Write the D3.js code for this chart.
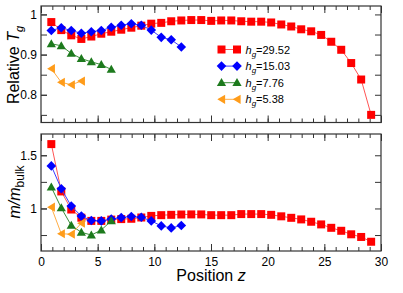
<!DOCTYPE html>
<html><head><meta charset="utf-8">
<script src="https://cdn.jsdelivr.net/npm/d3@7"></script>
<style>body{margin:0;background:#fff}svg{display:block;font-family:"Liberation Sans",Arial,sans-serif}</style>
</head><body><svg id="c" width="403" height="293"></svg>
<script>
// ---- data ----
const zPos = [0.91,1.79,2.67,3.56,4.44,5.32,6.20,7.08,7.97,8.85,9.73,10.61,11.49,12.38,13.26,14.14,15.02,15.90,16.79,17.67,18.55,19.43,20.31,21.20,22.08,22.96,23.84,24.72,25.61,26.49,27.37,28.25,29.13];
const seriesNames = ["29.52","15.03","7.76","5.38"];
const tgRed = [0.981,0.961,0.948,0.939,0.945,0.952,0.957,0.962,0.967,0.972,0.977,0.979,0.983,0.985,0.986,0.986,0.984,0.985,0.985,0.983,0.982,0.982,0.980,0.975,0.970,0.963,0.958,0.949,0.932,0.912,0.879,0.838,0.750];
const tgBlue = [0.960,0.967,0.960,0.953,0.957,0.960,0.968,0.973,0.977,0.973,0.961,0.943,0.937,0.919];
const tgGreen = [0.927,0.922,0.903,0.890,0.882,0.875,0.863];
const tgOrange = [0.865,0.831,0.825,0.834];
const mRed = [1.605,1.160,0.990,0.913,0.883,0.883,0.895,0.900,0.903,0.915,0.930,0.937,0.940,0.943,0.944,0.944,0.937,0.937,0.937,0.947,0.947,0.947,0.940,0.926,0.912,0.897,0.875,0.850,0.818,0.790,0.757,0.732,0.687];
const mBlue = [1.400,1.185,1.022,0.928,0.887,0.883,0.900,0.914,0.925,0.917,0.883,0.836,0.817,0.840];
const mGreen = [1.200,1.005,0.840,0.776,0.750,0.797,0.884];
const mOrange = [1.012,0.762,0.758,0.862];
const xTicks = [0,5,10,15,20,25,30];
const xMinor = d3.range(0,31,1);
const tgTicks = [0.8,0.9,1];
const tgMinor = [0.75,0.8,0.85,0.9,0.95,1];
const mTicks = [1,1.5];
const mMinor = [0.75,1,1.25,1.5];

// ---- layout ----
const svg = d3.select("#c");
const x = d3.scaleLinear([0,30],[41,381]);
const yTop = d3.scaleLinear([0.731,1.021],[122.5,6]);
const yBot = d3.scaleLinear([0.6,1.7],[251,134]);

const styles = [
  {fill:"#ff0000", line:"#ff5555", shape:"square"},
  {fill:"#0000ff", line:"#3a3aff", shape:"diamond"},
  {fill:"#1d7a1d", line:"#3a8f3a", shape:"triUp"},
  {fill:"#ff9c1a", line:"#ffad45", shape:"triLeft"}
];
function shapePath(s){
  if(s==="square"){const h=4;return `M${-h},${-h}H${h}V${h}H${-h}Z`;}
  if(s==="diamond"){const h=4.8;return `M0,${-h}L${h},0L0,${h}L${-h},0Z`;}
  if(s==="triUp"){return "M0,-4.6L4.6,3.4L-4.6,3.4Z";}
  return "M-4.2,0L3.6,-4.6L3.6,4.6Z";
}

function drawPanel(y, seriesList, yMajor, yMinorT, showXLabels){
  const [y1,y0] = y.range(); // y1 bottom, y0 top
  const g = svg.append("g");
  // x ticks bottom
  g.append("g").attr("transform",`translate(0,${y1})`)
    .call(d3.axisBottom(x).tickValues(xMinor).tickSizeInner(-4).tickSizeOuter(0).tickFormat(""));
  g.append("g").attr("transform",`translate(0,${y1})`)
    .call(d3.axisBottom(x).tickValues(xTicks).tickSizeInner(-7).tickSizeOuter(0).tickPadding(6)
      .tickFormat(showXLabels? d3.format("d") : ""));
  // x ticks top
  g.append("g").attr("transform",`translate(0,${y0})`)
    .call(d3.axisTop(x).tickValues(xMinor).tickSizeInner(-4).tickSizeOuter(0).tickFormat(""));
  g.append("g").attr("transform",`translate(0,${y0})`)
    .call(d3.axisTop(x).tickValues(xTicks).tickSizeInner(-7).tickSizeOuter(0).tickFormat(""));
  // y ticks
  g.append("g").attr("transform",`translate(41,0)`)
    .call(d3.axisLeft(y).tickValues(yMinorT).tickSizeInner(-6).tickSizeOuter(0).tickFormat(""));
  g.append("g").attr("transform",`translate(41,0)`)
    .call(d3.axisLeft(y).tickValues(yMajor).tickSizeInner(-6).tickSizeOuter(0).tickPadding(4).tickFormat(d3.format("~g")));
  g.append("g").attr("transform",`translate(381,0)`)
    .call(d3.axisRight(y).tickValues(yMinorT).tickSizeInner(-6).tickSizeOuter(0).tickFormat(""));
  g.selectAll(".domain").remove();
  g.selectAll(".tick line").attr("stroke","#333");
  g.selectAll(".tick text").attr("font-size",12).attr("fill","#000").attr("font-family","Liberation Sans, Arial, sans-serif");
  // frame
  g.append("rect").attr("x",41).attr("y",y0).attr("width",340).attr("height",y1-y0)
    .attr("fill","none").attr("stroke","#333").attr("stroke-width",1.2);
  // series
  seriesList.forEach((vals,i)=>{
    const st = styles[i];
    const pts = vals.map((v,j)=>[zPos[j],v]);
    g.append("path").attr("d", d3.line().x(d=>x(d[0])).y(d=>y(d[1]))(pts))
      .attr("fill","none").attr("stroke",st.line).attr("stroke-width",1);
    g.selectAll(null).data(pts).enter().append("path")
      .attr("d", shapePath(st.shape))
      .attr("transform", d=>`translate(${x(d[0])},${y(d[1])})`)
      .attr("fill", st.fill);
  });
}

drawPanel(yTop,[tgRed,tgBlue,tgGreen,tgOrange],tgTicks,tgMinor,false);
drawPanel(yBot,[mRed,mBlue,mGreen,mOrange],mTicks,mMinor,true);

// legend
const leg = svg.append("g");
seriesNames.forEach((nm,i)=>{
  const st = styles[i];
  const ly = 49.5 + i*16.6;
  leg.append("line").attr("x1",221.5).attr("x2",237).attr("y1",ly).attr("y2",ly).attr("stroke",st.line).attr("stroke-width",1);
  [221.5,237].forEach(lx=>leg.append("path").attr("d",shapePath(st.shape)).attr("transform",`translate(${lx},${ly})`).attr("fill",st.fill));
  const t = leg.append("text").attr("x",245.5).attr("y",ly+4).attr("font-size",11);
  t.append("tspan").attr("font-style","italic").text("h");
  t.append("tspan").attr("font-style","italic").attr("font-size",8).attr("dy",3).text("g");
  t.append("tspan").attr("dy",-3).text("="+nm);
});

// axis titles
const t1 = svg.append("text").attr("transform","translate(19,65) rotate(-90)").attr("text-anchor","middle").attr("font-size",16);
t1.append("tspan").text("Relative ");
t1.append("tspan").attr("font-style","italic").text("T");
t1.append("tspan").attr("font-style","italic").attr("font-size",11).attr("dy",4).text("g");

const t2 = svg.append("text").attr("transform","translate(20,192) rotate(-90)").attr("text-anchor","middle").attr("font-size",16);
t2.append("tspan").attr("font-style","italic").text("m/m");
t2.append("tspan").attr("font-size",12).attr("dy",4).text("bulk");

const t3 = svg.append("text").attr("x",211).attr("y",281).attr("text-anchor","middle").attr("font-size",16);
t3.append("tspan").text("Position ");
t3.append("tspan").attr("font-style","italic").text("z");
</script></body></html>
